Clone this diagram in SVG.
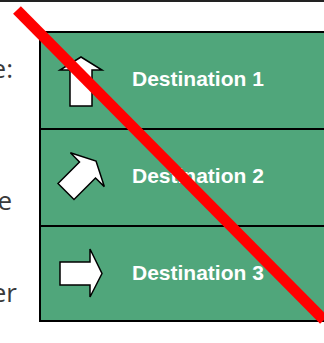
<svg xmlns="http://www.w3.org/2000/svg" width="324" height="343" viewBox="0 0 324 343">
<style>
.panel{fill:#50A67B;stroke:#000;stroke-width:2}
.arrow{fill:#fff;stroke:#000;stroke-width:1.5;stroke-linejoin:miter}
.lbl{font-family:"Liberation Sans",Arial,sans-serif;font-weight:bold;font-size:21px;fill:#fff}
.side{font-family:"Open Sans","DejaVu Sans",sans-serif;font-size:26px;fill:#3a3a3a}
</style>
<rect width="324" height="343" fill="#fff"/>
<line x1="0" y1="1" x2="324" y2="1" stroke="#222" stroke-width="2"/>
<g id="side-labels">
<text class="side" x="13" y="78" text-anchor="end">e:</text>
<text class="side" x="12" y="210" text-anchor="end">e</text>
<text class="side" x="17" y="302" text-anchor="end">er</text>
</g>
<g id="dest1">
<rect class="panel" x="40" y="32" width="290" height="97"/>
<path class="arrow" d="M81,57 L102,70 L92,70 L92,106 L70,106 L70,70 L60,70 Z"/>
<text class="lbl" x="132" y="86">Destination 1</text>
</g>
<g id="dest2">
<rect class="panel" x="40" y="129" width="290" height="97"/>
<path class="arrow" d="M96,161 L104.3,186.6 L95.5,178 L74,199.5 L58,183.5 L79.5,162 L70.4,152.7 Z"/>
<text class="lbl" x="132" y="183">Destination 2</text>
</g>
<g id="dest3">
<rect class="panel" x="40" y="226" width="290" height="95"/>
<path class="arrow" d="M102,273.5 L90,297 L90,285 L60,285 L60,262 L90,262 L90,249 Z"/>
<text class="lbl" x="132" y="279.5">Destination 3</text>
</g>
<g id="connectors">
<line x1="17" y1="10" x2="324" y2="320" stroke="#f00" stroke-width="11" stroke-linecap="butt"/>
</g>
</svg>
